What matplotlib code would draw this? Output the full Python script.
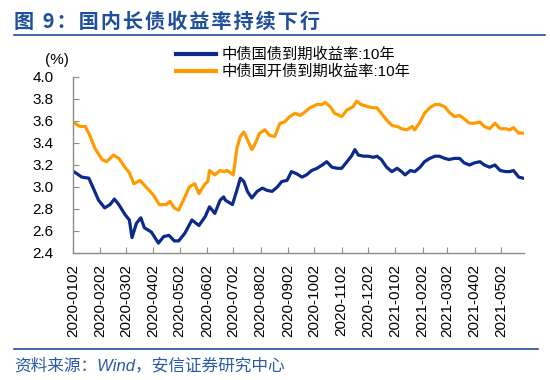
import matplotlib
matplotlib.use('Agg')
import matplotlib.pyplot as plt
import pandas as pd
from matplotlib.lines import Line2D

plt.rcParams['font.family'] = ['Liberation Sans', 'Noto Sans CJK SC']

series_names = ['中债国债到期收益率:10年', '中债国开债到期收益率:10年']

gov_dates = [
    '2020-01-02', '2020-01-12', '2020-01-20', '2020-01-25', '2020-01-31', '2020-02-07',
    '2020-02-13', '2020-02-18', '2020-02-23', '2020-03-01', '2020-03-06', '2020-03-09',
    '2020-03-14', '2020-03-19', '2020-03-23', '2020-03-31', '2020-04-08', '2020-04-14',
    '2020-04-20', '2020-04-26', '2020-05-01', '2020-05-08', '2020-05-16', '2020-05-24',
    '2020-05-31', '2020-06-05', '2020-06-11', '2020-06-17', '2020-06-21', '2020-06-23',
    '2020-07-01', '2020-07-06', '2020-07-10', '2020-07-14', '2020-07-18', '2020-07-23',
    '2020-07-29', '2020-08-04', '2020-08-09', '2020-08-15', '2020-08-21', '2020-08-26',
    '2020-09-01', '2020-09-06', '2020-09-12', '2020-09-18', '2020-09-23', '2020-09-29',
    '2020-10-05', '2020-10-11', '2020-10-16', '2020-10-22', '2020-10-28', '2020-11-02',
    '2020-11-08', '2020-11-13', '2020-11-17', '2020-11-21', '2020-11-27', '2020-12-02',
    '2020-12-08', '2020-12-12', '2020-12-17', '2020-12-23', '2020-12-29', '2021-01-04',
    '2021-01-09', '2021-01-13', '2021-01-19', '2021-01-24', '2021-01-30', '2021-02-04',
    '2021-02-10', '2021-02-16', '2021-02-21', '2021-02-27', '2021-03-04', '2021-03-10',
    '2021-03-16', '2021-03-21', '2021-03-27', '2021-04-02', '2021-04-08', '2021-04-13',
    '2021-04-19', '2021-04-25', '2021-05-01', '2021-05-07', '2021-05-12', '2021-05-16',
    '2021-05-22', '2021-05-27']
gov_yield = [
    3.145, 3.09, 3.08, 2.99, 2.88, 2.81,
    2.84, 2.89, 2.84, 2.75, 2.70, 2.54,
    2.67, 2.72, 2.63, 2.59, 2.49, 2.55,
    2.56, 2.51, 2.51, 2.58, 2.70, 2.65,
    2.73, 2.82, 2.76, 2.88, 2.91, 2.88,
    2.84, 2.97, 3.08, 3.05, 2.96, 2.90,
    2.96, 2.99, 2.97, 2.96, 3.00, 3.05,
    3.06, 3.14, 3.12, 3.09, 3.11, 3.15,
    3.17, 3.20, 3.23, 3.18, 3.17, 3.17,
    3.23, 3.28, 3.34, 3.29, 3.28, 3.28,
    3.27, 3.28, 3.25, 3.18, 3.14, 3.17,
    3.14, 3.11, 3.15, 3.14, 3.18, 3.23,
    3.26, 3.28, 3.28, 3.26, 3.25, 3.26,
    3.26, 3.22, 3.20, 3.22, 3.23, 3.20,
    3.18, 3.20, 3.15, 3.14, 3.14, 3.15,
    3.09, 3.08]

cdb_dates = [
    '2020-01-02', '2020-01-10', '2020-01-16', '2020-01-21', '2020-01-27', '2020-02-04',
    '2020-02-09', '2020-02-17', '2020-02-23', '2020-03-01', '2020-03-06', '2020-03-11',
    '2020-03-18', '2020-03-26', '2020-04-02', '2020-04-09', '2020-04-17', '2020-04-21',
    '2020-04-26', '2020-05-01', '2020-05-08', '2020-05-13', '2020-05-19', '2020-05-24',
    '2020-05-30', '2020-06-03', '2020-06-05', '2020-06-11', '2020-06-17', '2020-06-21',
    '2020-06-25', '2020-07-02', '2020-07-06', '2020-07-10', '2020-07-14', '2020-07-18',
    '2020-07-23', '2020-07-26', '2020-08-01', '2020-08-07', '2020-08-12', '2020-08-18',
    '2020-08-24', '2020-08-29', '2020-09-04', '2020-09-10', '2020-09-16', '2020-09-21',
    '2020-09-27', '2020-10-05', '2020-10-11', '2020-10-14', '2020-10-20', '2020-10-25',
    '2020-11-02', '2020-11-08', '2020-11-15', '2020-11-19', '2020-11-24', '2020-12-02',
    '2020-12-08', '2020-12-12', '2020-12-17', '2020-12-23', '2020-12-29', '2021-01-04',
    '2021-01-09', '2021-01-15', '2021-01-21', '2021-01-24', '2021-01-30', '2021-02-04',
    '2021-02-10', '2021-02-16', '2021-02-21', '2021-02-27', '2021-03-04', '2021-03-10',
    '2021-03-16', '2021-03-21', '2021-03-27', '2021-04-02', '2021-04-08', '2021-04-13',
    '2021-04-19', '2021-04-25', '2021-05-01', '2021-05-07', '2021-05-12', '2021-05-16',
    '2021-05-22', '2021-05-27']
cdb_yield = [
    3.59, 3.55, 3.55, 3.47, 3.35, 3.25,
    3.23, 3.29, 3.26, 3.18, 3.13, 3.03,
    3.06, 2.99, 2.93, 2.84, 2.84, 2.87,
    2.81, 2.79, 2.91, 3.00, 3.03, 2.94,
    3.02, 3.05, 3.15, 3.11, 3.15, 3.14,
    3.15, 3.11, 3.35, 3.46, 3.50, 3.43,
    3.34, 3.38, 3.49, 3.52, 3.47, 3.46,
    3.58, 3.59, 3.64, 3.67, 3.65, 3.68,
    3.72, 3.75, 3.75, 3.77, 3.73, 3.67,
    3.64, 3.70, 3.73, 3.78, 3.75, 3.73,
    3.72, 3.72, 3.67, 3.61, 3.56, 3.55,
    3.53, 3.52, 3.55, 3.52, 3.59, 3.67,
    3.72, 3.75, 3.75, 3.73, 3.68, 3.64,
    3.65, 3.62, 3.58, 3.58, 3.59, 3.55,
    3.53, 3.58, 3.53, 3.53, 3.52, 3.54,
    3.49, 3.49]

tick_labels = ['2020-0102', '2020-0202', '2020-0302', '2020-0402', '2020-0502',
               '2020-0602', '2020-0702', '2020-0802', '2020-0902', '2020-1002',
               '2020-1102', '2020-1202', '2021-0102', '2021-0202', '2021-0302',
               '2021-0402', '2021-0502']
y_ticks = [2.4, 2.6, 2.8, 3.0, 3.2, 3.4, 3.6, 3.8, 4.0]
x_start, x_end = '2020-01-02', '2021-05-28'

title_text = '图 9：国内长债收益率持续下行'
source_text = '资料来源：Wind，安信证券研究中心'

BLUE = '#0B2A8C'
ORANGE = '#FF9A00'
DEEP = '#1F4E9A'

W, H = 550, 380
fig = plt.figure(figsize=(W / 100, H / 100), dpi=100)
fig.patch.set_facecolor('white')
ax = fig.add_axes([73 / W, 1 - 253 / H, (524 - 73) / W, (253 - 77) / H])

ax.plot(pd.to_datetime(gov_dates), gov_yield, color=BLUE, lw=2.3, solid_joinstyle='round')
ax.plot(pd.to_datetime(cdb_dates), cdb_yield, color=ORANGE, lw=2.3, solid_joinstyle='round')

ax.set_ylim(y_ticks[0], y_ticks[-1])
ax.set_yticks(y_ticks)
ax.set_yticklabels([f'{v:.1f}' for v in y_ticks])
tick_pos = [pd.Timestamp(f'{s[:4]}-{s[5:7]}-{s[7:]}') for s in tick_labels]
ax.set_xticks(tick_pos)
ax.set_xticklabels(tick_labels, rotation=90)
ax.set_xlim(pd.Timestamp(x_start), pd.Timestamp(x_end))

for side in ['top', 'right']:
    ax.spines[side].set_visible(False)
for side in ['left', 'bottom']:
    ax.spines[side].set_color('#8C8C8C')
    ax.spines[side].set_linewidth(1.0)
ax.tick_params(axis='both', direction='in', length=4, color='#8C8C8C', labelsize=11)
ax.tick_params(axis='y', pad=14)
ax.tick_params(axis='x', pad=8)

handles = [Line2D([], [], color=BLUE, lw=3), Line2D([], [], color=ORANGE, lw=3)]
fig.legend(handles, series_names, loc='upper left', bbox_to_anchor=(176 / W, 1 - 48 / H),
           frameon=False, fontsize=11, handlelength=2.6, handletextpad=0.35,
           labelspacing=0.15, borderpad=0, borderaxespad=0)

fig.text(57 / W, 1 - 60 / H, '(%)', ha='center', va='center', fontsize=11)

# title with slight letter spacing (hair spaces from DejaVu Sans)
spaced_title = '\u200a'.join(title_text)
fig.text(14 / W, 1 - 21 / H, spaced_title, fontsize=14.5, fontweight='bold', color=DEEP,
         va='center', ha='left', family=['Noto Sans CJK SC', 'DejaVu Sans'])
fig.add_artist(Line2D([14 / W, 545 / W], [1 - 35 / H] * 2, transform=fig.transFigure,
                      color=DEEP, lw=1.2))
fig.add_artist(Line2D([14 / W, 538 / W], [1 - 349 / H] * 2, transform=fig.transFigure,
                      color=DEEP, lw=1.2))
fig.text(14 / W, 1 - 365 / H, source_text, fontsize=12, style='italic', color='#2A5AA6',
         va='center', ha='left')

fig.savefig('out.png', dpi=100)
